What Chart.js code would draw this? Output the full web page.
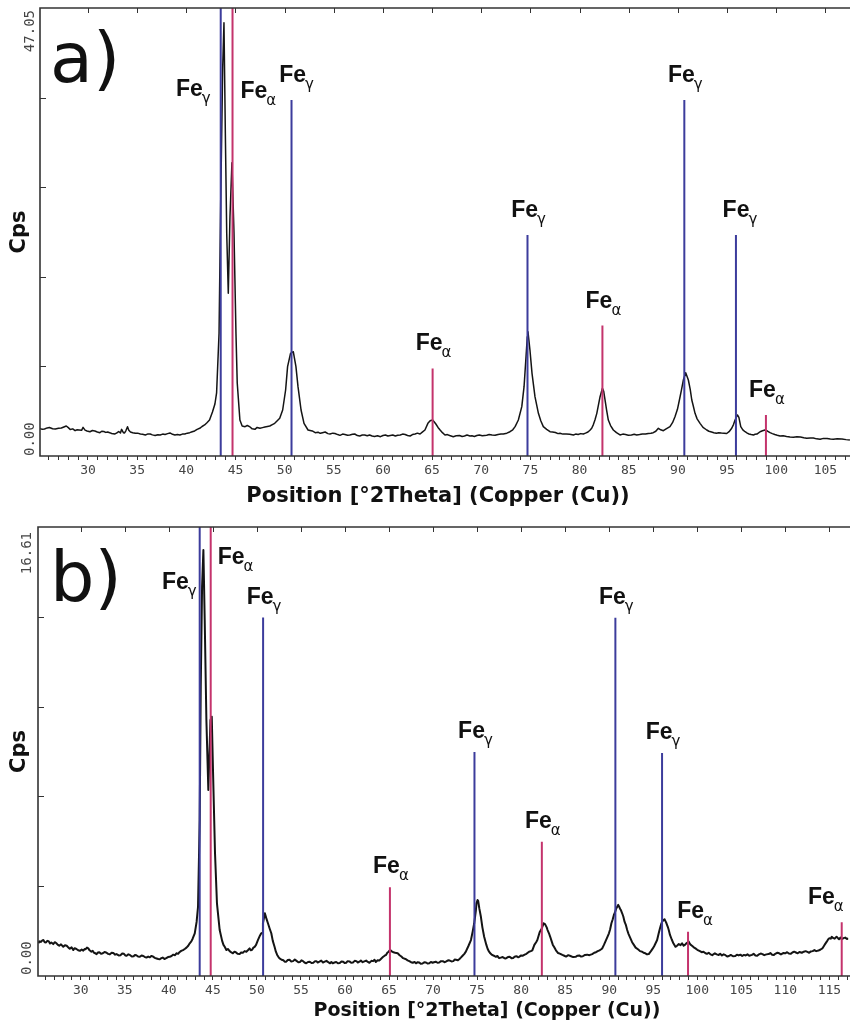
<!DOCTYPE html>
<html><head><meta charset="utf-8">
<script src="https://cdn.jsdelivr.net/npm/chart.js@4/dist/chart.umd.min.js"></script>
<style>
html,body{margin:0;padding:0;background:#fff;}
.wrap{position:relative;width:850px;height:1023px;overflow:hidden;background:#fff}
canvas{position:absolute;left:0}
</style>
</head><body>
<div class="wrap">
<canvas id="ca" width="850" height="515" style="top:0px"></canvas>
<canvas id="cb" width="850" height="508" style="top:515px"></canvas>
</div>
<script>
// ---------------- DATA: panel a ----------------
const thetaA = [25.08,25.35,25.58,25.85,26.08,26.4,26.68,27.0,27.29,27.55,27.79,28.0,28.19,28.45,28.69,28.9,29.10,29.35,29.50,29.7,29.90,30.20,30.45,30.70,30.95,31.21,31.40,31.61,31.80,32.01,32.20,32.41,32.71,32.90,33.12,33.30,33.42,33.60,33.72,33.85,34.02,34.15,34.32,34.55,34.82,35.05,35.33,35.55,35.83,36.05,36.33,36.55,36.83,37.10,37.34,37.60,37.84,38.10,38.34,38.60,38.84,39.10,39.35,39.60,39.85,40.10,40.35,40.60,40.85,41.10,41.36,41.60,41.86,42.10,42.36,42.66,42.91,43.08,43.33,43.50,43.70,43.83,43.97,44.11,44.27,44.44,44.64,44.85,45.05,45.18,45.45,45.68,45.98,46.2,46.48,46.7,46.98,47.2,47.49,47.75,47.99,48.25,48.49,48.75,48.99,49.25,49.50,49.80,50.10,50.30,50.60,50.88,51.15,51.36,51.67,51.97,52.38,52.81,53.11,53.40,53.62,53.85,54.12,54.40,54.62,54.90,55.12,55.40,55.63,55.90,56.13,56.40,56.63,56.90,57.13,57.40,57.64,57.90,58.14,58.40,58.64,58.90,59.14,59.45,59.75,60.00,60.25,60.50,60.75,61.00,61.26,61.50,61.76,62.00,62.26,62.50,62.76,63.00,63.27,63.50,63.77,64.00,64.27,64.57,64.80,65.05,65.20,65.38,65.60,65.81,66.05,66.31,66.55,66.78,67.15,67.45,67.79,68.05,68.29,68.55,68.85,69.05,69.30,69.55,69.80,70.10,70.55,70.80,71.10,71.40,71.71,72.00,72.24,72.60,72.92,73.20,73.44,73.77,74.12,74.35,74.55,74.68,74.75,74.95,75.16,75.46,75.81,76.05,76.31,76.65,76.99,77.25,77.54,77.80,78.01,78.30,78.64,79.00,79.37,79.60,79.85,80.10,80.38,80.60,80.85,81.05,81.23,81.40,81.56,81.75,82.08,82.32,82.45,82.59,82.75,82.92,83.15,83.43,83.75,84.11,84.40,84.67,84.95,85.27,85.55,85.81,86.10,86.38,86.70,86.98,87.25,87.49,87.75,88.01,88.25,88.52,88.80,89.19,89.45,89.70,89.95,90.15,90.35,90.55,90.79,91.06,91.25,91.41,91.55,91.74,91.95,92.25,92.55,92.93,93.15,93.42,93.65,93.92,94.15,94.42,94.70,94.96,95.20,95.47,95.65,95.81,96.05,96.20,96.39,96.60,96.83,97.05,97.23,97.45,97.68,97.85,98.04,98.20,98.36,98.60,98.86,99.10,99.37,99.60,99.85,100.10,100.39,100.70,101.05,101.40,101.75,102.10,102.46,102.80,103.10,103.45,103.77,104.10,104.46,104.80,105.17,105.50,105.81,106.20,106.68,107.10,107.49];
const cpsA = [2.91,2.80,2.84,2.95,2.99,2.86,2.84,2.92,2.94,3.05,3.15,2.98,2.78,2.85,2.66,2.75,2.73,2.70,3.01,2.72,2.63,2.55,2.68,2.63,2.52,2.45,2.60,2.57,2.48,2.52,2.45,2.36,2.31,2.40,2.57,2.42,2.80,2.45,2.42,2.65,3.08,2.70,2.52,2.45,2.38,2.40,2.31,2.28,2.21,2.30,2.31,2.22,2.15,2.24,2.21,2.30,2.26,2.35,2.42,2.28,2.21,2.25,2.21,2.30,2.31,2.40,2.45,2.55,2.63,2.80,2.91,3.10,3.26,3.50,3.78,4.62,5.46,6.62,12.9,26.9,40.8,45.5,33.9,23.4,17.1,25.1,30.8,23.4,12.9,7.67,3.78,3.15,3.08,3.20,3.05,2.85,2.80,3.00,2.91,2.98,3.05,3.10,3.15,3.30,3.43,3.70,3.96,4.83,6.93,9.38,10.78,10.95,9.38,7.28,4.83,3.43,2.73,2.63,2.45,2.50,2.38,2.45,2.52,2.35,2.31,2.40,2.36,2.25,2.17,2.30,2.26,2.18,2.21,2.28,2.31,2.15,2.10,2.20,2.21,2.12,2.21,2.10,2.05,2.12,2.03,2.15,2.21,2.10,2.15,2.20,2.10,2.18,2.21,2.30,2.26,2.15,2.10,2.25,2.31,2.40,2.31,2.50,2.73,3.43,3.70,3.78,3.60,3.36,3.00,2.73,2.45,2.21,2.25,2.15,2.03,2.12,2.15,2.05,2.10,2.20,2.10,2.12,2.05,2.15,2.21,2.12,2.17,2.25,2.21,2.18,2.26,2.30,2.31,2.40,2.55,2.75,3.08,3.78,5.18,7.28,10.43,12.53,13.05,11.13,8.68,6.23,4.48,3.70,3.08,2.80,2.55,2.52,2.47,2.35,2.38,2.30,2.31,2.28,2.21,2.30,2.26,2.35,2.31,2.40,2.52,2.70,2.91,3.30,3.78,4.48,6.23,7.11,6.80,5.88,4.80,3.78,3.20,2.73,2.45,2.21,2.30,2.26,2.18,2.21,2.28,2.21,2.25,2.31,2.30,2.36,2.40,2.45,2.60,2.91,2.75,2.66,2.85,3.08,3.50,4.13,4.90,5.88,6.90,7.98,8.75,7.98,7.00,5.88,5.30,4.48,3.90,3.43,3.00,2.73,2.60,2.52,2.45,2.38,2.45,2.42,2.40,2.36,2.55,2.91,3.30,3.78,4.31,4.05,3.08,2.75,2.55,2.40,2.31,2.25,2.21,2.28,2.31,2.42,2.55,2.65,2.73,2.62,2.45,2.35,2.26,2.18,2.10,2.12,2.05,2.00,1.96,2.02,2.00,1.92,1.86,1.90,1.89,1.80,1.75,1.85,1.84,1.78,1.75,1.80,1.79,1.72,1.68];
const gammaPosA = [43.5, 50.7, 74.7, 90.65, 95.9];
const gammaHA   = [47.05, 37.4, 23.2, 37.4, 23.2];
const alphaPosA = [44.7, 65.05, 82.32, 98.95];
const alphaHA   = [47.05, 9.2, 13.7, 4.3];
const xTickLabelsA = [30,35,40,45,50,55,60,65,70,75,80,85,90,95,100,105];
const yLabelsA = ['0.00','47.05'];

// ---------------- DATA: panel b ----------------
const thetaB = [
25.18,25.3,25.45,25.6,25.75,25.9,26.05,26.2,26.35,26.5,
26.65,26.87,27.05,27.2,27.4,27.55,27.75,28.01,28.2,28.4,
28.6,28.75,28.95,29.14,29.3,29.5,29.7,29.9,30.1,30.28,
30.45,30.55,30.7,30.85,31.0,31.2,31.35,31.5,31.65,31.79,
31.95,32.1,32.3,32.5,32.7,32.93,33.1,33.3,33.5,33.7,
33.9,34.06,34.3,34.5,34.7,34.9,35.05,35.2,35.4,35.57,
35.8,36.0,36.15,36.3,36.5,36.70,36.9,37.1,37.3,37.45,
37.65,37.84,38.0,38.2,38.4,38.6,38.8,38.97,39.15,39.3,
39.5,39.7,39.9,40.10,40.3,40.5,40.7,40.86,41.05,41.2,
41.4,41.61,41.8,42.0,42.2,42.37,42.55,42.7,42.94,43.15,43.31,
43.50,43.62,43.77,43.92,44.07,44.26,44.48,44.72,44.87,45.01,
45.24,45.46,45.77,46.05,46.2,46.34,46.53,46.7,46.9,47.1,
47.27,47.45,47.6,47.8,48.03,48.2,48.4,48.6,48.80,49.0,
49.17,49.3,49.45,49.6,49.74,49.9,50.11,50.35,50.49,50.60,
50.68,50.90,51.05,51.25,51.45,51.63,51.8,52.00,52.15,52.3,
52.45,52.57,52.8,53.0,53.15,53.33,53.5,53.7,53.9,54.1,
54.3,54.46,54.7,54.9,55.05,55.2,55.4,55.59,55.8,56.0,
56.2,56.4,56.6,56.75,56.9,57.10,57.3,57.5,57.7,57.9,
58.1,58.3,58.45,58.60,58.8,59.0,59.2,59.4,59.6,59.8,
59.95,60.13,60.3,60.5,60.7,60.9,61.1,61.3,61.45,61.64,
61.8,62.0,62.2,62.4,62.6,62.77,63.0,63.2,63.35,63.5,
63.7,63.89,64.1,64.3,64.5,64.66,64.8,64.95,65.1,65.22,
65.35,65.5,65.7,65.98,66.2,66.4,66.6,66.93,67.1,67.3,
67.5,67.7,67.9,68.06,68.25,68.43,68.6,68.8,69.0,69.2,
69.4,69.57,69.75,69.94,70.1,70.3,70.5,70.7,70.9,71.1,
71.3,71.45,71.7,71.9,72.1,72.3,72.45,72.6,72.8,72.97,
73.15,73.35,73.55,73.72,
74.0,74.30,74.5,74.67,74.85,74.93,75.05,75.12,75.25,75.43,
75.6,75.80,76.05,76.2,76.36,76.5,76.7,76.9,77.13,77.3,
77.5,77.7,77.9,78.1,78.26,78.5,78.7,78.9,79.1,79.3,
79.5,79.65,79.77,80.0,80.2,80.4,80.6,80.75,80.9,81.1,
81.27,81.5,81.7,81.84,82.1,82.34,82.55,82.71,82.9,83.0,
83.16,83.3,83.45,83.6,83.73,83.95,84.2,84.45,84.68,84.9,
85.1,85.35,85.6,85.9,86.19,86.4,86.6,86.8,87.0,87.25,
87.5,87.75,88.07,88.3,88.5,88.7,88.9,89.05,89.20,89.4,
89.6,89.8,89.97,90.1,90.25,90.4,90.53,90.65,90.8,91.02,
91.15,91.25,91.35,91.47,91.6,91.75,91.9,92.04,92.2,92.4,
92.6,92.80,93.0,93.3,93.5,93.74,93.9,94.1,94.3,94.49,
94.65,94.8,94.95,95.1,95.25,95.44,95.6,95.75,95.9,96.01,
96.15,96.28,96.4,96.5,96.65,96.76,96.9,97.1,97.3,97.52,
97.7,97.9,98.1,98.27,98.45,98.6,98.8,99.03,99.2,99.4,
99.6,99.79,
100.0,100.3,100.5,100.7,100.93,101.1,101.3,101.5,101.7,102.0,
102.2,102.43,102.6,102.8,103.0,103.2,103.4,103.6,103.8,104.05,
104.32,104.5,104.7,104.9,105.1,105.3,105.5,105.7,105.9,106.21,
106.4,106.6,106.8,107.0,107.2,107.4,107.6,107.85,108.10,108.3,
108.5,108.7,108.9,109.1,109.3,109.5,109.75,109.99,110.2,110.4,
110.6,110.8,111.0,111.2,111.4,111.6,111.87,112.1,112.3,112.5,
112.7,112.9,113.1,113.3,113.5,113.76,114.0,114.2,114.45,114.70,
114.85,115.0,115.15,115.27,115.45,115.6,115.75,115.84,116.0,116.1,
116.25,116.41,116.6,116.8,117.0,117.16];
const cpsB = [
1.21,1.28,1.26,1.31,1.33,1.25,1.24,1.30,1.29,1.20,
1.24,1.18,1.25,1.22,1.15,1.12,1.17,1.08,1.14,1.12,
1.05,1.01,1.06,0.96,1.03,1.00,0.95,0.93,0.98,0.94,
1.00,0.99,1.05,1.02,0.95,0.90,0.93,0.86,0.84,0.81,
0.87,0.88,0.82,0.84,0.89,0.86,0.82,0.80,0.86,0.85,
0.79,0.81,0.76,0.77,0.83,0.82,0.76,0.75,0.80,0.78,
0.72,0.73,0.78,0.77,0.72,0.71,0.76,0.74,0.70,0.68,
0.72,0.69,0.74,0.72,0.67,0.65,0.63,0.62,0.66,0.68,
0.63,0.66,0.70,0.71,0.74,0.79,0.77,0.84,0.82,0.88,
0.93,0.96,1.00,1.05,1.12,1.21,1.28,1.38,1.58,2.0,2.56,
5.77,10.7,14.4,15.76,13.17,9.47,6.88,9.47,9.59,7.62,
4.54,2.69,1.70,1.30,1.15,1.08,0.96,1.00,0.92,0.87,
0.84,0.90,0.88,0.82,0.81,0.87,0.86,0.92,0.90,0.96,
1.02,0.95,0.97,1.05,1.08,1.15,1.33,1.50,1.58,1.60,
1.95,2.32,2.15,1.95,1.75,1.58,1.30,1.08,0.90,0.78,
0.70,0.65,0.60,0.58,0.53,0.53,0.59,0.60,0.54,0.55,
0.61,0.57,0.51,0.52,0.58,0.56,0.50,0.47,0.52,0.53,
0.48,0.49,0.55,0.55,0.50,0.53,0.57,0.50,0.53,0.56,
0.51,0.47,0.52,0.47,0.50,0.52,0.47,0.48,0.54,0.53,
0.48,0.49,0.55,0.54,0.49,0.50,0.56,0.55,0.50,0.53,
0.57,0.51,0.54,0.57,0.52,0.49,0.56,0.55,0.60,0.52,
0.58,0.57,0.64,0.70,0.75,0.78,0.86,0.90,0.96,0.94,
0.90,0.88,0.86,0.84,0.77,0.72,0.66,0.62,0.58,0.55,
0.51,0.49,0.52,0.47,0.51,0.50,0.45,0.46,0.51,0.50,
0.46,0.47,0.52,0.49,0.51,0.53,0.49,0.50,0.55,0.55,
0.51,0.53,0.58,0.57,0.54,0.55,0.61,0.60,0.58,0.62,
0.68,0.75,0.82,0.90,
1.10,1.33,1.65,1.95,2.40,2.69,2.81,2.78,2.50,2.19,
1.80,1.45,1.15,1.00,0.90,0.84,0.78,0.75,0.71,0.74,
0.66,0.68,0.70,0.66,0.65,0.70,0.71,0.66,0.67,0.72,
0.73,0.69,0.71,0.76,0.75,0.79,0.82,0.86,0.90,0.92,
0.95,1.15,1.25,1.33,1.62,1.76,1.95,1.92,1.80,1.70,
1.58,1.45,1.30,1.15,1.08,0.95,0.85,0.82,0.78,0.75,
0.72,0.77,0.74,0.70,0.71,0.75,0.76,0.72,0.73,0.78,
0.79,0.77,0.81,0.86,0.88,0.92,0.95,0.98,1.02,1.15,
1.30,1.45,1.58,1.72,1.95,2.10,2.26,2.35,2.50,2.63,
2.55,2.48,2.42,2.32,2.20,2.00,1.88,1.70,1.55,1.40,
1.25,1.15,1.05,0.98,0.92,0.90,0.86,0.84,0.80,0.81,
0.88,0.95,1.02,1.10,1.20,1.33,1.55,1.75,1.92,2.01,
2.06,2.10,2.02,1.95,1.82,1.70,1.52,1.35,1.20,1.08,
1.12,1.18,1.14,1.21,1.12,1.15,1.22,1.27,1.17,1.12,
1.06,1.02,
0.97,0.92,0.88,0.90,0.84,0.82,0.86,0.80,0.77,0.84,
0.80,0.78,0.82,0.76,0.80,0.77,0.72,0.74,0.78,0.73,
0.74,0.79,0.76,0.79,0.74,0.78,0.76,0.80,0.75,0.78,
0.82,0.76,0.75,0.80,0.83,0.81,0.77,0.80,0.81,0.85,
0.79,0.78,0.83,0.86,0.84,0.80,0.85,0.84,0.88,0.83,
0.82,0.87,0.90,0.87,0.84,0.89,0.86,0.90,0.92,0.89,
0.86,0.91,0.92,0.96,0.92,0.94,0.98,1.02,1.15,1.27,
1.35,1.40,1.38,1.45,1.40,1.38,1.44,1.45,1.39,1.36,
1.42,1.36,1.40,1.42,1.37,1.39];
const gammaPosB = [43.5, 50.7, 74.7, 90.7, 96.0];
const gammaHB   = [16.61, 13.26, 8.29, 13.25, 8.25];
const alphaPosB = [44.75, 65.1, 82.35, 98.95, 116.4];
const alphaHB   = [16.61, 3.28, 4.97, 1.64, 1.99];
const xTickLabelsB = [30,35,40,45,50,55,60,65,70,75,80,85,90,95,100,105,110,115];
const yLabelsB = ['0.00','16.61'];

// ---------------- styling / layout ----------------
const BLUE = '#3c3c9c', RED = '#c4336c', INK = '#141414', AXIS = '#333';

function curvePoints(th, c){ return th.map((t,i)=>({x:t, y:c[i]})); }
function stickPoints(pos, h){
  const out = [];
  pos.forEach((p,i)=>{ out.push({x:p,y:0}); out.push({x:p,y:h[i]}); out.push({x:p,y:null}); });
  return out;
}

function drawFe(ctx, sub, left, baseline){
  ctx.textAlign='left'; ctx.textBaseline='alphabetic'; ctx.fillStyle='#111';
  ctx.font='bold 23px "Liberation Sans", Arial, sans-serif';
  ctx.fillText('Fe', left, baseline);
  const w = ctx.measureText('Fe').width;
  ctx.font='15px "DejaVu Sans", sans-serif';
  ctx.fillText(sub, left + w - 1, baseline + 7);
}
function feWidth(ctx, sub){
  ctx.font='bold 23px "Liberation Sans", Arial, sans-serif';
  const w = ctx.measureText('Fe').width;
  ctx.font='15px "DejaVu Sans", sans-serif';
  return w - 1 + ctx.measureText(sub).width;
}

function makePanel(id, p){
  const plugin = {
    id: 'deco'+p.name,
    afterDatasetsDraw(chart){
      const {ctx, chartArea: ca, scales:{x, y}} = chart;
      ctx.save();
      ctx.strokeStyle = AXIS; ctx.lineWidth = 1.6;
      ctx.beginPath();
      ctx.moveTo(ca.right+2, ca.top); ctx.lineTo(ca.left, ca.top);
      ctx.lineTo(ca.left, ca.bottom); ctx.lineTo(ca.right+2, ca.bottom);
      ctx.stroke();
      ctx.lineWidth = 1; ctx.beginPath();
      p.xLabels.forEach(v=>{ const px = Math.round(x.getPixelForValue(v))+0.5; ctx.moveTo(px, ca.top); ctx.lineTo(px, ca.top+5); });
      for(let i=1;i<5;i++){ const py = Math.round(y.getPixelForValue(p.yMax*i/5))+0.5; ctx.moveTo(ca.left, py); ctx.lineTo(ca.left+6, py); }
      ctx.stroke();
      ctx.fillStyle = '#444'; ctx.font = '14px "DejaVu Sans Mono", monospace'; ctx.textBaseline='middle';
      ctx.save(); ctx.translate(p.yLabX, ca.bottom + p.y0Off); ctx.rotate(-Math.PI/2); ctx.textAlign='left'; ctx.fillText(p.yLabels[0],0,0); ctx.restore();
      ctx.save(); ctx.translate(p.yLabX, ca.top + p.yTopOff); ctx.rotate(-Math.PI/2); ctx.textAlign='right'; ctx.fillText(p.yLabels[1],0,0); ctx.restore();
      ctx.fillStyle = '#111'; ctx.textAlign='center'; ctx.textBaseline='middle';
      ctx.font = 'bold '+p.titleSize+'px "DejaVu Sans", sans-serif';
      ctx.fillText('Position [\u00B02Theta] (Copper (Cu))', p.titleX, p.titleY);
      ctx.save(); ctx.translate(20, (ca.top+ca.bottom)/2); ctx.rotate(-Math.PI/2);
      ctx.font = 'bold 21px "DejaVu Sans", sans-serif'; ctx.fillText('Cps',0,0); ctx.restore();
      ctx.textAlign='left'; ctx.textBaseline='alphabetic';
      ctx.font = '70px "DejaVu Sans", sans-serif';
      ctx.fillText(p.letter, 50, ca.top + 74);
      const lab = (pos, h, sub, modes, dx) => {
        pos.forEach((v,i)=>{
          const px = x.getPixelForValue(v) + (dx ? dx[i] : 0), top = y.getPixelForValue(h[i]);
          const w = feWidth(ctx, sub);
          const m = modes[i];
          if (m==='L') drawFe(ctx, sub, px - p.lGap - w, ca.top + p.lBase);
          else if (m==='R') drawFe(ctx, sub, px + p.rGap, ca.top + p.rBase);
          else if (m==='E') drawFe(ctx, sub, px + 2 - w, top - p.cGap - 4);
          else drawFe(ctx, sub, px - w/2 + 1, top - p.cGap);
        });
      };
      lab(p.gPos, p.gH, '\u03B3', p.gModes, p.gDx);
      lab(p.aPos, p.aH, '\u03B1', p.aModes, p.aDx);
      ctx.restore();
    }
  };
  const ints = [];
  for (let v = Math.ceil(p.xMin); v <= Math.floor(p.xMax); v++) ints.push(v);
  return new Chart(document.getElementById(id), {
    type: 'line',
    data: { datasets: [
      {data: stickPoints(p.gPos, p.gH), borderColor: BLUE, borderWidth: 2, pointRadius: 0, spanGaps: false, tension: 0},
      {data: stickPoints(p.aPos, p.aH), borderColor: RED, borderWidth: 2, pointRadius: 0, spanGaps: false, tension: 0},
      {data: curvePoints(p.theta, p.cps), borderColor: INK, borderWidth: p.lw, pointRadius: 0, tension: 0, borderJoinStyle: 'round'}
    ]},
    options: {
      responsive: false, animation: false, events: [],
      layout: {padding: {left: 0, right: 0, top: p.top, bottom: 0}},
      plugins: {legend: {display: false}, tooltip: {enabled: false}},
      scales: {
        x: {type: 'linear', min: p.xMin, max: p.xMax,
            afterBuildTicks: s => { s.ticks = ints.map(v => ({value: v})); },
            afterFit: s => { s.height = p.xAxisH; },
            ticks: {autoSkip: false, maxRotation: 0, minRotation: 0, padding: 3, color: '#444',
                    font: {family: '"DejaVu Sans Mono", monospace', size: 13},
                    callback: v => p.xLabels.includes(v) ? String(v) : ''},
            grid: {drawOnChartArea: false, drawTicks: true, tickLength: 4, color: AXIS, tickColor: AXIS},
            border: {display: false}},
        y: {type: 'linear', min: 0, max: p.yMax,
            afterFit: s => { s.width = p.left; },
            ticks: {display: false}, grid: {display: false}, border: {display: false}}
      }
    },
    plugins: [plugin]
  });
}

makePanel('ca', {name:'A', letter:'a)', theta: thetaA, cps: cpsA, lw: 1.5,
  gPos: gammaPosA, gH: gammaHA, aPos: alphaPosA, aH: alphaHA,
  gModes: ['L','c','c','c','c'], aModes: ['R','c','c','c'],
  gDx: [0,4,0,0,3], aDx: null,
  xLabels: xTickLabelsA, yLabels: yLabelsA, yMax: 47.05, xMin: 25.12, xMax: 107.5,
  top: 8, left: 40, xAxisH: 59, yLabX: 30.5, y0Off: 0, yTopOff: 2,
  titleSize: 21, titleX: 438, titleY: 497,
  lGap: 10, lBase: 88, rGap: 8, rBase: 90, cGap: 18});

makePanel('cb', {name:'B', letter:'b)', theta: thetaB, cps: cpsB, lw: 2,
  gPos: gammaPosB, gH: gammaHB, aPos: alphaPosB, aH: alphaHB,
  gModes: ['L','c','c','c','c'], aModes: ['R','c','c','c','E'],
  gDx: null, aDx: [0,0,0,6,0],
  xLabels: xTickLabelsB, yLabels: yLabelsB, yMax: 16.61, xMin: 25.14, xMax: 117.16,
  top: 12, left: 38, xAxisH: 47, yLabX: 27.5, y0Off: -1, yTopOff: 5,
  titleSize: 19, titleX: 487, titleY: 496,
  lGap: 3, lBase: 62, rGap: 7, rBase: 37, cGap: 14});
</script>
</body></html>
